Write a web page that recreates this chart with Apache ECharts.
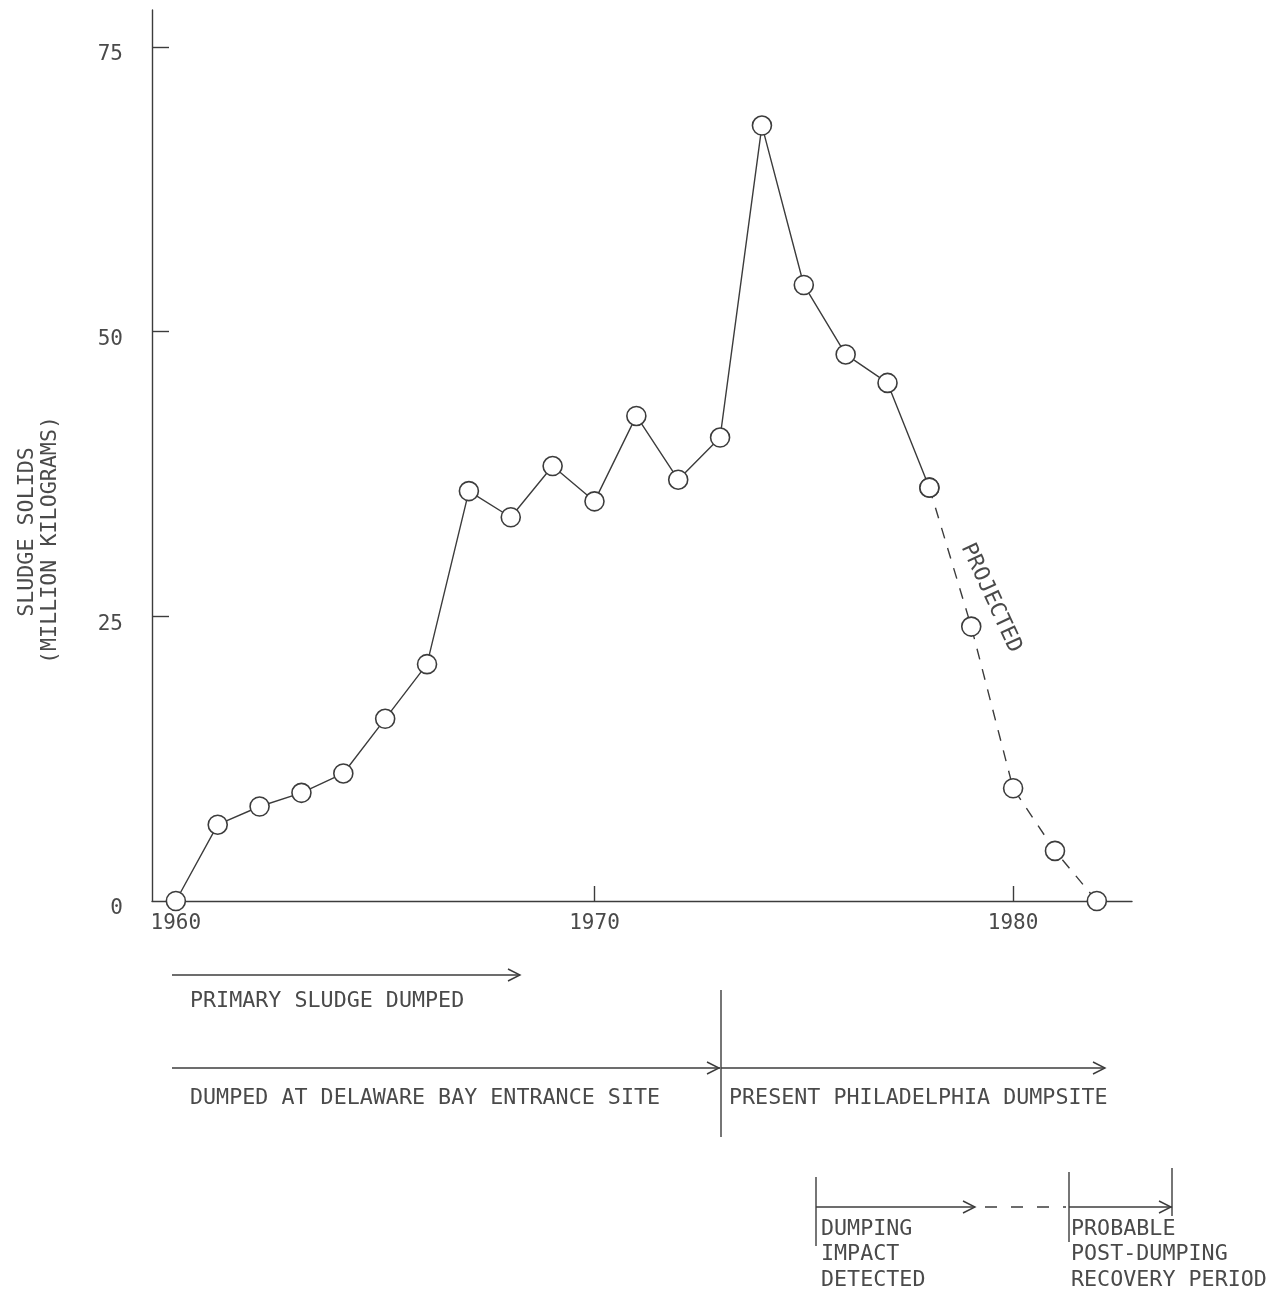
<!DOCTYPE html>
<html>
<head>
<meta charset="utf-8">
<script src="https://cdn.jsdelivr.net/npm/echarts@6/dist/echarts.min.js"></script>
<style>
  html, body { margin: 0; padding: 0; background: #fff; }
  #chart { width: 1279px; height: 1295px; }
</style>
</head>
<body>
<div id="chart"></div>
<script>
// ---- data ----
const years = [1960, 1961, 1962, 1963, 1964, 1965, 1966, 1967, 1968, 1969, 1970, 1971,
               1972, 1973, 1974, 1975, 1976, 1977, 1978, 1979, 1980, 1981, 1982];
const sludgeSolids = [0, 6.7, 8.3, 9.5, 11.2, 16.0, 20.8, 36.0, 33.7, 38.2, 35.1, 42.6,
                      37.0, 40.7, 68.1, 54.1, 48.0, 45.5, 36.3, 24.1, 9.9, 4.4, 0];
const projectedFrom = 1978;
const xTickLabels = [1960, 1970, 1980];
const xTicks = [1970, 1980];
const yTickLabels = [0, 25, 50, 75];
const yTicks = [25, 50, 75];
const yTitle = ['SLUDGE SOLIDS', '(MILLION KILOGRAMS)'];
const projectedLabel = 'PROJECTED';
const timelineLabels = {
  primary: 'PRIMARY SLUDGE DUMPED',
  delaware: 'DUMPED AT DELAWARE BAY ENTRANCE SITE',
  philadelphia: 'PRESENT PHILADELPHIA DUMPSITE',
  impact: ['DUMPING', 'IMPACT', 'DETECTED'],
  recovery: ['PROBABLE', 'POST-DUMPING', 'RECOVERY PERIOD']
};

// ---- build ----
const INK = '#3c3c3c';
const TXT = '#4a4a4a';
const FONT = '"DejaVu Sans Mono", monospace';
const FS = 21.7;

const recorded = [], projected = [];
years.forEach((y, i) => {
  if (y <= projectedFrom) recorded.push([y, sludgeSolids[i]]);
  if (y >= projectedFrom) projected.push([y, sludgeSolids[i]]);
});

const chart = echarts.init(document.getElementById('chart'), null, { renderer: 'canvas' });

function line(x1, y1, x2, y2, dash) {
  return {
    type: 'line', silent: true,
    shape: { x1, y1, x2, y2 },
    style: { stroke: INK, lineWidth: 1.4, lineDash: dash || null }
  };
}
function arrowHead(x, y) {
  return {
    type: 'polyline', silent: true,
    shape: { points: [[x - 12, y - 6], [x, y], [x - 12, y + 6]] },
    style: { stroke: INK, lineWidth: 1.4, fill: null }
  };
}
function text(str, x, y, extra) {
  return Object.assign({
    type: 'text', silent: true, x, y,
    style: Object.assign({
      text: str, fill: TXT, font: FS + 'px ' + FONT,
      textAlign: 'left', textVerticalAlign: 'middle'
    }, (extra && extra.style) || {})
  }, extra ? { rotation: extra.rotation || 0 } : {});
}

const graphics = [
  // y axis title
  text(yTitle[0], 27, 532, { rotation: Math.PI / 2, style: { textAlign: 'center' } }),
  text(yTitle[1], 50, 540, { rotation: Math.PI / 2, style: { textAlign: 'center' } }),
  // projected label
  text(projectedLabel, 991, 598, { rotation: -1.14, style: { textAlign: 'center' } }),

  // primary sludge
  line(172, 975, 520, 975), arrowHead(520, 975),
  text(timelineLabels.primary, 190, 1001),
  // delaware
  line(172, 1068, 720, 1068), arrowHead(719, 1068),
  text(timelineLabels.delaware, 190, 1098),
  // separator
  line(721, 990, 721, 1137),
  // philadelphia
  line(721, 1068, 1105, 1068), arrowHead(1105, 1068),
  text(timelineLabels.philadelphia, 729, 1098),

  // impact
  line(816, 1177, 816, 1246),
  line(816, 1207, 975, 1207), arrowHead(975, 1207),
  line(985, 1207, 1066, 1207, [12, 14]),
  line(1069, 1172, 1069, 1242),
  line(1069, 1207, 1172, 1207), arrowHead(1171, 1207),
  line(1172, 1168, 1172, 1216),
  text(timelineLabels.impact[0], 821, 1229),
  text(timelineLabels.impact[1], 821, 1254),
  text(timelineLabels.impact[2], 821, 1280),
  text(timelineLabels.recovery[0], 1071, 1229),
  text(timelineLabels.recovery[1], 1071, 1254),
  text(timelineLabels.recovery[2], 1071, 1280)
];

const option = {
  backgroundColor: '#ffffff',
  animation: false,
  grid: { left: 152, right: 147, top: 10, bottom: 394, containLabel: false, outerBoundsMode: 'none' },
  xAxis: {
    type: 'value', min: 1959.43, max: 1982.84,
    axisLine: { show: true, onZero: false, lineStyle: { color: INK, width: 1.4 } },
    axisTick: { show: true, inside: true, length: 15, customValues: xTicks, lineStyle: { color: INK, width: 1.4 } },
    axisLabel: { customValues: xTickLabels, margin: 12, color: TXT, fontFamily: FONT, fontSize: 21,
                 formatter: v => String(v) },
    splitLine: { show: false }
  },
  yAxis: {
    type: 'value', min: 0, max: 78.25,
    axisLine: { show: true, onZero: false, lineStyle: { color: INK, width: 1.4 } },
    axisTick: { show: true, inside: true, length: 17, customValues: yTicks, lineStyle: { color: INK, width: 1.4 } },
    axisLabel: { customValues: yTickLabels, margin: 29, color: TXT, fontFamily: FONT, fontSize: 21,
                 verticalAlign: 'top', lineHeight: 16,
                 formatter: v => String(v) },
    splitLine: { show: false }
  },
  series: [
    {
      type: 'line', data: recorded, z: 3,
      symbol: 'circle', symbolSize: 19, showSymbol: true,
      lineStyle: { color: INK, width: 1.4 },
      itemStyle: { color: '#ffffff', borderColor: INK, borderWidth: 1.6 }
    },
    {
      type: 'line', data: projected, z: 2,
      symbol: 'circle', symbolSize: 19, showSymbol: true,
      lineStyle: { color: INK, width: 1.4, type: [11, 10] },
      itemStyle: { color: '#ffffff', borderColor: INK, borderWidth: 1.6 }
    }
  ],
  graphic: graphics
};
chart.setOption(option);
</script>
</body>
</html>
